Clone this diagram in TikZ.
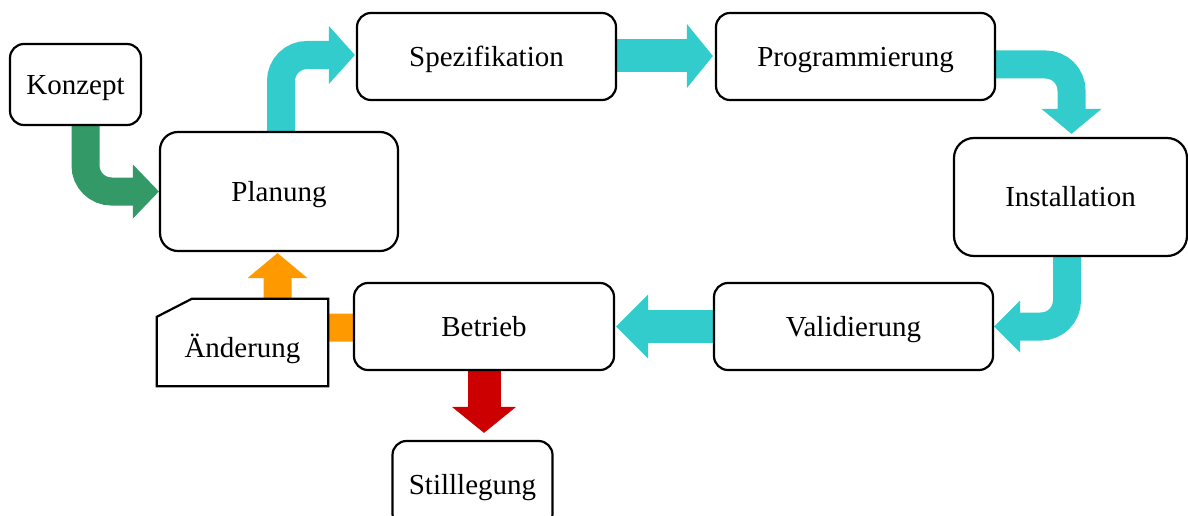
\documentclass[tikz,border=0pt]{standalone}
\usepackage{fontspec}
\setmainfont{Liberation Serif}
\usetikzlibrary{calc,backgrounds}
\definecolor{arrcyan}{RGB}{51,204,204}
\definecolor{arrgreen}{RGB}{51,153,102}
\definecolor{arrorange}{RGB}{255,153,0}
\definecolor{arrred}{RGB}{204,0,0}
\begin{document}
\begin{tikzpicture}[x=1pt,y=-1pt,
  box/.style={draw=black, line width=2.2pt, fill=white, rounded corners=14pt,
    inner sep=0pt, text height=25.8pt, text depth=6.3pt, font=\fontsize{29}{34}\selectfont},
  bentshaft/.style={line width=28pt, rounded corners=26pt},
  straightshaft/.style={line width=33pt},
  cardline/.style={draw=black, line width=2.2pt, fill=white, line join=miter}
]
\useasboundingbox (0,0) rectangle (1188,516);

% boxes
\node[box, minimum width=131pt, minimum height=81pt] (konzept) at (75.5,84.5) {Konzept};
\node[box, rounded corners=18pt, minimum width=238pt, minimum height=119pt] (planung) at (279,191.5) {Planung};
\node[box, minimum width=259pt, minimum height=87pt] (spez) at (486.5,56.5) {Spezifikation};
\node[box, minimum width=279pt, minimum height=87pt] (prog) at (855.5,56.5) {Programmierung};
\node[box, rounded corners=20pt, minimum width=233pt, minimum height=118pt] (inst) at (1070.5,197) {Installation};
\node[box, minimum width=279pt, minimum height=87pt] (valid) at (853.5,326.5) {Validierung};
\node[box, minimum width=260pt, minimum height=87pt] (betrieb) at (484,326.5) {Betrieb};
\node[box, minimum width=160pt, minimum height=87pt] (still) at (472.5,484.5) {Stilllegung};
\node[inner sep=0pt, minimum width=171pt, minimum height=87pt, text height=29pt, text depth=0pt,
  font=\fontsize{29}{34}\selectfont] (aend) at (242.5,342.5) {Änderung};

\begin{pgfonlayer}{background}
% Konzept -> Planung (green)
\coordinate (gt) at (planung.west);
\draw[arrgreen, bentshaft] ($(konzept.south)+(10,0)$) |- ($(gt)+(-25,0)$);
\fill[arrgreen] (gt) -- ++(-26,-27) -- ++(0,54) -- cycle;

% Planung -> Spezifikation (cyan)
\coordinate (ct) at ($(spez.west)+(-1,-1.5)$);
\draw[arrcyan, bentshaft] ($(planung.north)+(2,0)$) |- ($(ct)+(-25,0)$);
\fill[arrcyan] (ct) -- ++(-26,-29) -- ++(0,58) -- cycle;

% Spezifikation -> Programmierung
\coordinate (st) at ($(prog.west)+(-2,-0.5)$);
\draw[arrcyan, straightshaft] (spez.east |- st) -- ($(st)+(-25,0)$);
\fill[arrcyan] (st) -- ++(-26,-32) -- ++(0,64) -- cycle;

% Programmierung -> Installation
\coordinate (pt) at ($(inst.north)+(1,-3)$);
\draw[arrcyan, bentshaft] ($(prog.east)+(0,8)$) -| ($(pt)+(0,-24)$);
\fill[arrcyan] (pt) -- ++(-30,-25) -- ++(60,0) -- cycle;

% Installation -> Validierung
\coordinate (it) at (valid.east);
\draw[arrcyan, bentshaft] ($(inst.south)+(-3.5,0)$) |- ($(it)+(25,0)$);
\fill[arrcyan] (it) -- ++(26,-26) -- ++(0,52) -- cycle;

% Validierung -> Betrieb
\coordinate (vt) at ($(betrieb.east)+(1,0)$);
\draw[arrcyan, straightshaft] (valid.west) -- ($(vt)+(31,0)$);
\fill[arrcyan] (vt) -- ++(32,-32) -- ++(0,64) -- cycle;

% Betrieb -> Stilllegung (red)
\coordinate (rt) at ($(betrieb.south |- still.north)+(0,-7)$);
\draw[arrred, straightshaft] (betrieb.south) -- ($(rt)+(0,-25)$);
\fill[arrred] (rt) -- ++(-32,-26) -- ++(64,0) -- cycle;

% Betrieb -> Planung (orange, behind Aenderung)
\coordinate (ot) at ($(planung.south)+(-1.5,1)$);
\draw[arrorange, bentshaft] ($(betrieb.west)+(0,1)$) -| ($(ot)+(0,24)$);
\fill[arrorange] (ot) -- ++(-30,25) -- ++(60,0) -- cycle;

% Aenderung card outline
\path[cardline] (aend.south west) -- ($(aend.north west)+(0,18)$) -- ($(aend.north west)+(35,0)$)
  -- (aend.north east) -- (aend.south east) -- cycle;
\end{pgfonlayer}
\end{tikzpicture}
\end{document}
